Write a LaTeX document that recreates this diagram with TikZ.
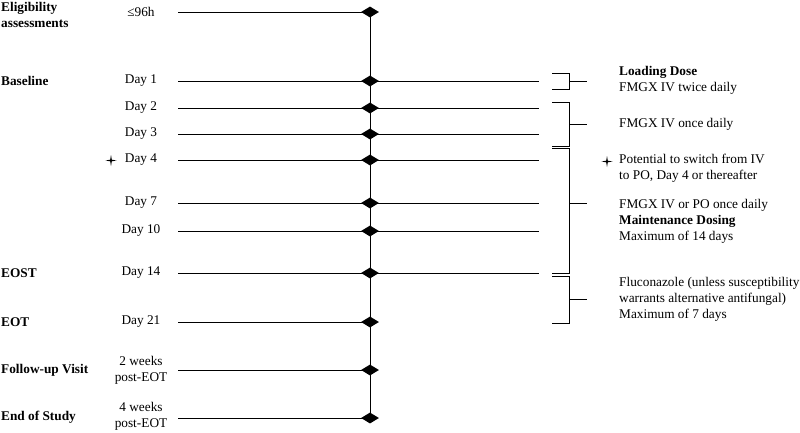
\documentclass[tikz,border=0pt]{standalone}
\usepackage{fontspec}
\setmainfont{Liberation Serif}
\usetikzlibrary{shapes.geometric,positioning}

% bracket: top y, bottom y, tick y
\newcommand{\dosebracket}[3]{%
  \draw[br] (552,#1) -| (569,#2) -- (552,#2);
  \draw[br] (569,#3) -- (587,#3);}

\tikzset{fourstar/.pic={\fill (0,-5.5)--(0.8,-0.8)--(5.5,0)--(0.8,0.8)--(0,5.5)--(-0.8,0.8)--(-5.5,0)--(-0.8,-0.8)--cycle;}}

\begin{document}
\begin{tikzpicture}[x=1pt,y=-1pt,font=\fontsize{13.3}{16}\selectfont]
\tikzstyle{milestone}=[diamond,fill=black,draw=none,minimum width=18pt,minimum height=11pt,inner sep=0pt]
\tikzstyle{phase}=[anchor=west,align=left,inner sep=0pt,font=\fontsize{13.3}{16}\selectfont\bfseries]
\tikzstyle{when}=[align=center,inner sep=0pt]
\tikzstyle{dose}=[anchor=west,align=left,inner sep=0pt]
\tikzstyle{tl}=[line width=0.9pt]
\tikzstyle{br}=[line width=0.8pt]
\useasboundingbox (0,0) rectangle (800,432);

% time points on the axis
\foreach \n/\y in {96h/12,d1/81,d2/108,d3/134,d4/160,d7/203,d10/231,d14/273,d21/322,fu/370,eos/418}{
  \node[milestone] (m\n) at (370,\y) {};
  \coordinate (s\n) at (178,\y);
  \coordinate (e\n) at (539,\y);
}
\draw[tl] (m96h.center)--(meos.center);
\foreach \n in {96h,d21,fu,eos} \draw[tl] (s\n)--(m\n.center);
\foreach \n in {d1,d2,d3,d4,d7,d10,d14} \draw[tl] (s\n)--(e\n);

% phases
\node[phase] (pel) at (1,15) {Eligibility\\assessments};
\node[phase] (pbl) at (1,81) {Baseline};
\node[phase] (peost) at (1,273) {EOST};
\node[phase] (peot) at (1,322) {EOT};
\node[phase] (pfu) at (1,370) {Follow-up Visit};
\node[phase] (peos) at (1,417) {End of Study};

% days
\node[when] (t96h) at (141,12) {≤96h};
\node[when] (td1) at (141,81) {Day 1};
\node[when] (td2) at (141,108) {Day 2};
\node[when] (td3) at (141,134) {Day 3};
\node[when] (td4) at (141,160) {Day 4};
\node[when] (td7) at (141,203) {Day 7};
\node[when] (td10) at (141,231) {Day 10};
\node[when] (td14) at (141,273) {Day 14};
\node[when] (td21) at (141,322) {Day 21};
\node[when] (tfu) at (141,370) {2 weeks\\post-EOT};
\node[when] (teos) at (141,416) {4 weeks\\post-EOT};
\pic at (111,160.5) {fourstar};

% dosing brackets
\dosebracket{73}{89}{81}
\dosebracket{102}{146}{124}
\dosebracket{148.5}{273}{203}
\dosebracket{276}{323}{299}

\node[dose] (load) at (619,80) {\textbf{Loading Dose}\\FMGX IV twice daily};
\node[dose] (once) at (619,124) {FMGX IV once daily};
\node[dose] (swt) at (619,168.5) {Potential to switch from IV\\to PO, Day 4 or thereafter};
\pic at (607,161.5) {fourstar};
\node[dose] (mnt) at (619,221) {FMGX IV or PO once daily\\\textbf{Maintenance Dosing}\\Maximum of 14 days};
\node[dose] (flu) at (619,299) {Fluconazole (unless susceptibility\\warrants alternative antifungal)\\Maximum of 7 days};
\end{tikzpicture}
\end{document}
